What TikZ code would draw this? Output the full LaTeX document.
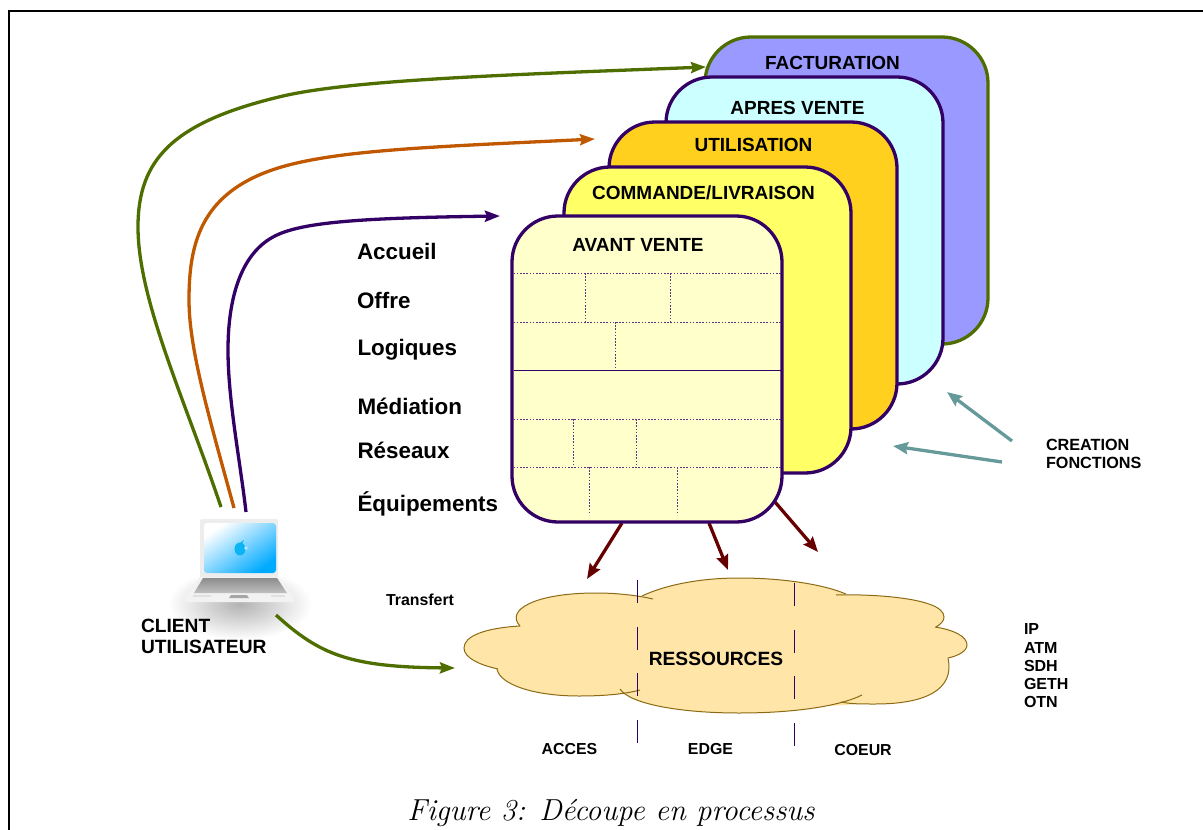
\documentclass[tikz,border=0pt]{standalone}
\usepackage{fontspec}
\newfontfamily\labfont{Liberation Sans}
\usetikzlibrary{arrows.meta,shadings,calc}
\definecolor{pur}{HTML}{330066}
\definecolor{grn}{HTML}{4F6E00}
\definecolor{org}{HTML}{C05800}
\definecolor{dred}{HTML}{660000}
\definecolor{teal2}{HTML}{669999}
\definecolor{cloudf}{HTML}{FFE6A8}
\definecolor{clouds}{HTML}{8C6A14}
\definecolor{factc}{HTML}{9999FF}
\definecolor{aprc}{HTML}{CCFFFF}
\definecolor{utic}{HTML}{FFD01E}
\definecolor{cmdc}{HTML}{FFFF66}
\definecolor{avc}{HTML}{FFFFCC}
\definecolor{scrc}{HTML}{00AAFF}
\definecolor{applec}{HTML}{0AB4F5}
\definecolor{hlc}{HTML}{BEE8FF}
\newcommand{\lobeA}{(520,626) .. controls (505,610) and (535,593) .. (596,593) .. controls (620,593) and (640,596) .. (653,599)}
\newcommand{\lobeB}{(520,626) .. controls (485,628) and (464,636) .. (464,648) .. controls (464,658) and (480,665) .. (498,669)}
\newcommand{\lobeC}{(497,669) .. controls (500,685) and (535,696) .. (579,696) .. controls (605,696) and (625,694) .. (640,690)}
\newcommand{\lobeD}{(620,689) .. controls (630,704) and (680,713) .. (739,713) .. controls (795,713) and (840,706) .. (862,695)}
\newcommand{\lobeE}{(841,702) .. controls (850,704) and (862,704) .. (875,704) .. controls (925,704) and (955,690) .. (948,658)}
\newcommand{\lobeF}{(935,627) .. controls (955,630) and (967,637) .. (967,645) .. controls (967,651) and (958,656) .. (948,658)}
\newcommand{\lobeG}{(836,595) .. controls (860,594) and (944,596) .. (944,617) .. controls (944,621) and (941,624) .. (936,627)}
\newcommand{\lobeH}{(642,596) .. controls (665,585) and (700,578) .. (739,578) .. controls (785,578) and (825,585) .. (846,594)}
\tikzset{
  x=1pt,y=-1pt,
  stackbox/.style={draw=pur,line width=3.3pt,rounded corners=46pt,inner sep=0pt,outer sep=0pt},
  lab/.style={font=\labfont\bfseries\fontsize{#1}{#1}\selectfont,text=black,inner sep=0pt,outer sep=0pt},
  flow/.style={line width=3.3pt,-{Stealth[length=15pt,width=11pt,inset=2pt]}},
  redarrow/.style={draw=dred,line width=3.3pt,-{Stealth[length=15pt,width=12pt,inset=2pt]}},
  tealarrow/.style={draw=teal2,line width=3.3pt,-{Stealth[length=15pt,width=12pt,inset=2pt]}},
  grid/.style={draw=pur!80,line width=1pt,dash pattern=on 1.6pt off 1.6pt},
  cut/.style={draw=pur,line width=1pt,dash pattern=on 23pt off 23.7pt},
}
\begin{document}
\begin{tikzpicture}
\useasboundingbox (0,0) rectangle (1203,830);
% frame
\draw[line width=2pt,black] (9,830) -- (9,11) -- (1203,11);
% process stack (back to front); dark red connectors leave the front box
\node[stackbox,draw=grn,fill=factc,minimum width=283pt,minimum height=307pt] (fact) at (846.5,190.5) {};
\node[stackbox,fill=aprc,minimum width=277pt,minimum height=307pt] (apres) at (804.5,230.5) {};
\node[stackbox,fill=utic,minimum width=288pt,minimum height=307pt] (util) at (753,275.5) {};
\node[stackbox,fill=cmdc,minimum width=287pt,minimum height=306pt] (cmd) at (707.5,320) {};
% free ends
\coordinate (r1s) at (622,523); \coordinate (r1e) at (587,579);
\coordinate (r2s) at (709,523); \coordinate (r2e) at (728,570);
\coordinate (r3s) at (775,502); \coordinate (r3e) at (818,552);
\draw[redarrow] (r1s) -- (r1e);
\draw[redarrow] (r2s) -- (r2e);
\draw[redarrow] (r3s) -- (r3e);
\node[stackbox,fill=avc,minimum width=270pt,minimum height=306pt] (avant) at (647,369) {};
% grid of the front box
\draw[grid] (513.5,273) -- (780.5,273);
\draw[grid] (513.5,322) -- (780.5,322);
\draw[draw=pur,line width=1pt] (513.5,370) -- (780.5,370);
\draw[grid] (513.5,419) -- (780.5,419);
\draw[grid] (513.5,467) -- (780.5,467);
\draw[grid] (585,273) -- (585,322);
\draw[grid] (670,273) -- (670,322);
\draw[grid] (615,322) -- (615,370);
\draw[grid] (573,419) -- (573,467);
\draw[grid] (636,419) -- (636,467);
\draw[grid] (589,467) -- (589,515);
\draw[grid] (677,467) -- (677,515);
% box titles
\node[lab=19,anchor=base] (tfact) at (832.5,69) {FACTURATION};
\node[lab=19,anchor=base] (tapres) at (797.5,114) {APRES VENTE};
\node[lab=19,anchor=base] (tutil) at (753.5,151) {UTILISATION};
\node[lab=19,anchor=base] (tcmd) at (703.5,199.5) {COMMANDE/LIVRAISON};
\node[lab=19,anchor=base] (tavant) at (638,251.5) {AVANT VENTE};
% layer labels
\node[lab=22.4,anchor=base west] (l1) at (357,259) {Accueil};
\node[lab=22.4,anchor=base west] (l2) at (357,308) {Offre};
\node[lab=22.4,anchor=base west] (l3) at (357.5,355) {Logiques};
\node[lab=22.4,anchor=base west] (l4) at (357.5,414) {Médiation};
\node[lab=22.4,anchor=base west] (l5) at (357.5,458) {Réseaux};
\node[lab=22.4,anchor=base west] (l6) at (357.5,511) {Équipements};
% laptop
\shade[inner color=black!30,outer color=white] (240,604) ellipse (72pt and 36pt);
\fill[black!7,rounded corners=2pt] (200,519) rectangle (278,580);
\shade[rounded corners=3pt,top color=white,bottom color=scrc,shading angle=35] (204,523) rectangle (276,573);
\fill[black!5] (200,577) -- (278,577) -- (294,597) -- (294,602) -- (185,602) -- (185,597) -- cycle;
\shade[top color=black!45,bottom color=black!25] (203,578) -- (277,578) -- (287,593) -- (194,593) -- cycle;
\fill[black!35] (231,595) -- (247,595) -- (249,598) -- (229,598) -- cycle;
\fill[black!12] (193,595) rectangle (211,597);
\fill[black!12] (271,595) rectangle (285,597);
\fill[applec] (240,549) ellipse (5.5pt and 6.5pt);
\fill[applec] (240,543) -- (244,540) -- (242,544) -- cycle;
\fill[hlc] (246,548) circle (1.8pt);
\node[lab=19.2,anchor=base west] (cl1) at (141,632) {CLIENT};
\node[lab=19.2,anchor=base west] (cl2) at (141,653) {UTILISATEUR};
% curves
\coordinate (gs) at (221,507); \coordinate (ge) at (706,67);
\coordinate (os) at (234,508); \coordinate (oe) at (595,139);
\coordinate (ps) at (246,512); \coordinate (pe) at (500,216);
\coordinate (ts) at (276,615); \coordinate (te) at (455,668);
\draw[flow,draw=grn] (gs) .. controls (185,400) and (138,300) .. (138,227) .. controls (138,160) and (172,122) .. (283,96) .. controls (353,80) and (500,75) .. (ge);
\draw[flow,draw=org] (os) .. controls (210,420) and (189,350) .. (189,300) .. controls (189,245) and (200,195) .. (272,170) .. controls (330,150) and (430,147) .. (oe);
\draw[flow,draw=pur] (ps) .. controls (240,460) and (228,400) .. (228,350) .. controls (228,300) and (240,255) .. (273,237) .. controls (300,222) and (360,218) .. (pe);
\draw[flow,draw=grn] (ts) .. controls (320,655) and (350,667) .. (te);
% cloud
\fill[cloudf] (520,626) -- (596,594) -- (642,597) -- (739,579) -- (846,595) -- (892,597) -- (936,627) -- (948,658) -- (875,703) -- (739,712) -- (630,692) -- (579,695) -- (497,669) -- cycle;
\fill[cloudf] \lobeA; \fill[cloudf] \lobeB; \fill[cloudf] \lobeC; \fill[cloudf] \lobeD;
\fill[cloudf] \lobeE; \fill[cloudf] \lobeF; \fill[cloudf] \lobeG; \fill[cloudf] \lobeH;
\draw[clouds,line width=1pt] \lobeA; \draw[clouds,line width=1pt] \lobeB;
\draw[clouds,line width=1pt] \lobeC; \draw[clouds,line width=1pt] \lobeD;
\draw[clouds,line width=1pt] \lobeE; \draw[clouds,line width=1pt] \lobeF;
\draw[clouds,line width=1pt] \lobeG; \draw[clouds,line width=1pt] \lobeH;
\coordinate (c1a) at (637,580); \coordinate (c1b) at (637,743);
\coordinate (c2a) at (794,583); \coordinate (c2b) at (794,746);
\draw[cut] (c1a) -- (c1b);
\draw[cut] (c2a) -- (c2b);
\node[lab=19.2,anchor=base] (res) at (716,665.5) {RESSOURCES};
\node[lab=15.9,anchor=base west] (tr) at (386,605) {Transfert};
\node[lab=15.9,anchor=base] (z1) at (569.5,754) {ACCES};
\node[lab=15.9,anchor=base] (z2) at (710.5,754) {EDGE};
\node[lab=15.9,anchor=base] (z3) at (863,755) {COEUR};
\node[lab=16,anchor=base west] (p1) at (1024,634) {IP};
\node[lab=16,anchor=base west] (p2) at (1024,653) {ATM};
\node[lab=16,anchor=base west] (p3) at (1024,671) {SDH};
\node[lab=16,anchor=base west] (p4) at (1024,689) {GETH};
\node[lab=16,anchor=base west] (p5) at (1024,707) {OTN};
% creation
\node[lab=16.2,anchor=base west] (cr1) at (1046,450) {CREATION};
\node[lab=16.2,anchor=base west] (cr2) at (1046,468) {FONCTIONS};
\coordinate (t1s) at (1012,441); \coordinate (t1e) at (947,392);
\coordinate (t2s) at (1002,462); \coordinate (t2e) at (893,446);
\draw[tealarrow] (t1s) -- (t1e);
\draw[tealarrow] (t2s) -- (t2e);
% caption
\node[anchor=base,inner sep=0pt,font=\itshape\fontsize{30.4}{30.4}\selectfont] (cap) at (611,820) {Figure 3: Découpe en processus};
\end{tikzpicture}
\end{document}
